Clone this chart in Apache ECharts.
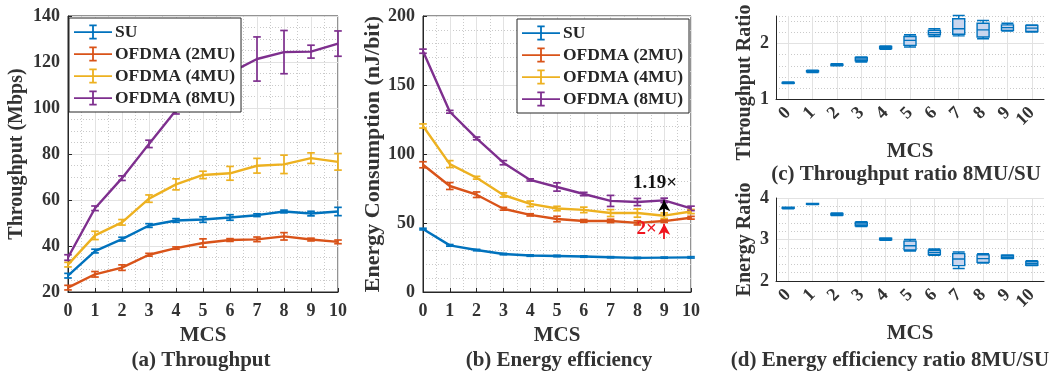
<!DOCTYPE html>
<html lang="en">
<head>
    <meta charset="UTF-8">
    <title>MCS throughput / energy</title>
    <script src="https://cdn.jsdelivr.net/npm/echarts@6/dist/echarts.min.js"></script>
</head>
<body style="margin:0;background:#fff;">
<div id="main" style="width:1064px;height:374px;"></div>
<script>
    // ---- data ----
    var mcs = [0, 1, 2, 3, 4, 5, 6, 7, 8, 9, 10];
    var mcsLabels = ['0', '1', '2', '3', '4', '5', '6', '7', '8', '9', '10'];
    var seriesNames = ['SU', 'OFDMA (2MU)', 'OFDMA (4MU)', 'OFDMA (8MU)'];

    // (a) throughput, Mbps
    var suThr = [27.1, 37.8, 43, 48.9, 51.1, 51.5, 52.4, 53.4, 55, 54.1, 55];
    var suThrErr = [1, 0.8, 0.8, 0.8, 0.8, 1.2, 1.2, 0.6, 0.6, 1, 1.8];
    var mu2Thr = [21.9, 27.7, 30.6, 36.2, 39.1, 41.3, 42.6, 42.9, 44.2, 42.8, 41.8];
    var mu2ThrErr = [1, 1.2, 1.2, 0.6, 0.5, 1.8, 0.6, 1, 1.6, 0.6, 0.8];
    var mu4Thr = [31.9, 44.6, 50.3, 60.6, 66.8, 70.9, 71.6, 74.9, 75.5, 78.2, 76.6];
    var mu4ThrErr = [1, 1.8, 1.2, 1.6, 2.4, 1.6, 3, 3.2, 4, 2.3, 3.6];
    var mu8Thr = [35, 56.4, 69.5, 84.4, 99, 108, 115.3, 121.3, 124.3, 124.5, 128];
    var mu8ThrErr = [1.2, 1, 1, 1.6, 1.6, 2, 2, 9.6, 9.4, 2.8, 5.5];

    // (b) energy consumption, nJ/bit
    var suEn = [45.6, 33.8, 30.4, 27.5, 26.4, 26.1, 25.7, 25.2, 24.7, 24.9, 25.1];
    var suEnErr = [0.6, 0.6, 0.5, 0.5, 0.5, 0.5, 0.5, 0.4, 0.4, 0.4, 0.5];
    var mu2En = [92.2, 76.8, 70.5, 60.3, 55.9, 52.9, 51.5, 51.5, 50.1, 51.4, 53.8];
    var mu2EnErr = [2.2, 2.5, 2, 1, 0.8, 2, 1, 1.2, 1.5, 1, 1];
    var mu4En = [120.3, 92.7, 82.8, 70.3, 63.9, 60.5, 59.5, 57.2, 57.2, 55.3, 58.3];
    var mu4EnErr = [1.5, 2.5, 1, 1.5, 2, 1.6, 2, 2.5, 3, 2, 1.5];
    var mu8En = [174.5, 130.6, 111.3, 93.7, 81.2, 76.1, 71, 66, 65.2, 66.4, 60.6];
    var mu8EnErr = [1.5, 1, 1, 1.5, 0.8, 3, 1.2, 4, 2.6, 1.6, 1.6];

    // annotation arrows at MCS 9
    var arrowBlack = [[9, 55.3], [9, 66.4]];
    var arrowRed = [[9, 38.4], [9, 49.5]];
    var textBlack = [8.66, 79];
    var textRed = [8.35, 45.8];

    // (c) throughput ratio 8MU/SU boxes: [min, q1, median, q3, max]
    var thrRatio = [
        [1.28, 1.285, 1.29, 1.30, 1.31],
        [1.48, 1.49, 1.50, 1.51, 1.52],
        [1.60, 1.61, 1.615, 1.63, 1.64],
        [1.67, 1.69, 1.72, 1.75, 1.76],
        [1.90, 1.91, 1.93, 1.95, 1.96],
        [1.94, 1.97, 2.06, 2.13, 2.16],
        [2.13, 2.16, 2.20, 2.24, 2.27],
        [2.14, 2.17, 2.27, 2.45, 2.51],
        [2.09, 2.12, 2.25, 2.37, 2.42],
        [2.23, 2.24, 2.29, 2.34, 2.37],
        [2.21, 2.22, 2.28, 2.33, 2.34]
    ];
    // (d) energy efficiency ratio 8MU/SU
    var enRatio = [
        [3.74, 3.75, 3.76, 3.77, 3.78],
        [3.84, 3.85, 3.86, 3.87, 3.87],
        [3.58, 3.59, 3.61, 3.63, 3.64],
        [3.31, 3.33, 3.37, 3.41, 3.43],
        [2.98, 2.99, 3.01, 3.03, 3.04],
        [2.72, 2.75, 2.85, 2.96, 3.00],
        [2.62, 2.64, 2.69, 2.74, 2.77],
        [2.30, 2.37, 2.53, 2.66, 2.70],
        [2.43, 2.45, 2.54, 2.63, 2.66],
        [2.54, 2.55, 2.58, 2.62, 2.63],
        [2.37, 2.38, 2.42, 2.47, 2.49]
    ];

    var colors = ['#0072BD', '#D95319', '#EDB120', '#7E2F8E'];
    var FONT = "'Liberation Serif', 'Times New Roman', serif";
    var TXT = '#333333';

    function pairs(ys) {
        return mcs.map(function (x, i) { return [x, ys[i]]; });
    }
    function bars(ys, err) {
        return mcs.map(function (x, i) { return [x, ys[i] - err[i], ys[i] + err[i]]; });
    }
    function errRender(params, api) {
        var x = api.value(0);
        var p1 = api.coord([x, api.value(1)]);
        var p2 = api.coord([x, api.value(2)]);
        var w = 3.8;
        var st = {stroke: api.visual('color'), lineWidth: 1.7, fill: null};
        return {
            type: 'group',
            children: [
                {type: 'line', shape: {x1: p1[0], y1: p1[1], x2: p2[0], y2: p2[1]}, style: st},
                {type: 'line', shape: {x1: p1[0] - w, y1: p1[1], x2: p1[0] + w, y2: p1[1]}, style: st},
                {type: 'line', shape: {x1: p2[0] - w, y1: p2[1], x2: p2[0] + w, y2: p2[1]}, style: st}
            ]
        };
    }

    var axisLine = {lineStyle: {color: '#262626', width: 1}};
    var tick = {inside: true, length: 4, lineStyle: {color: '#262626'}};
    var major = {show: true, lineStyle: {color: '#e2e2e2', width: 1}};
    var minor = {show: true, lineStyle: {color: '#cacaca', width: 1, type: [1, 2]}};
    var tickFont = {fontFamily: FONT, fontWeight: 'bold', fontSize: 18, color: TXT};
    var nameFont = {fontFamily: FONT, fontWeight: 'bold', fontSize: 21, color: TXT};

    function lineXAxis(gi) {
        return {
            gridIndex: gi, type: 'value', min: 0, max: 10, interval: 1,
            name: 'MCS', nameLocation: 'middle', nameGap: 31, nameTextStyle: nameFont,
            axisLine: axisLine, axisTick: tick,
            axisLabel: Object.assign({margin: 10}, tickFont),
            splitLine: major, minorTick: {show: false, splitNumber: 2}, minorSplitLine: minor
        };
    }
    function boxXAxis(gi) {
        return {
            gridIndex: gi, type: 'category', data: mcsLabels,
            name: 'MCS', nameLocation: 'middle', nameGap: 42, nameTextStyle: nameFont,
            axisLine: axisLine, axisTick: {inside: true, length: 3, alignWithLabel: true, lineStyle: {color: '#262626'}},
            axisLabel: Object.assign({rotate: 45, margin: 11, interval: 0}, tickFont),
            splitLine: {show: true, alignWithLabel: true, lineStyle: {color: '#e2e2e2'}}
        };
    }

    var series = [];
    var thrSets = [[suThr, suThrErr], [mu2Thr, mu2ThrErr], [mu4Thr, mu4ThrErr], [mu8Thr, mu8ThrErr]];
    var enSets = [[suEn, suEnErr], [mu2En, mu2EnErr], [mu4En, mu4EnErr], [mu8En, mu8EnErr]];
    [thrSets, enSets].forEach(function (sets, gi) {
        sets.forEach(function (s, k) {
            var line = {
                name: seriesNames[k], type: 'line', xAxisIndex: gi, yAxisIndex: gi,
                data: pairs(s[0]), symbol: 'none', z: 3,
                itemStyle: {color: colors[k]}, lineStyle: {width: 2.4, color: colors[k]}
            };
            if (gi === 1 && k === 3) {
                line.markLine = {
                    silent: true, symbol: ['none', 'arrow'], symbolSize: [9, 11],
                    lineStyle: {color: '#000', width: 1.8, type: 'solid'}, label: {show: false},
                    data: [[{coord: arrowBlack[0]}, {coord: arrowBlack[1]}]]
                };
                line.markPoint = {
                    symbol: 'circle', symbolSize: 0,
                    label: {show: true, position: 'inside', formatter: '1.19×', fontFamily: FONT, fontWeight: 'bold', fontSize: 19, color: '#111'},
                    data: [{coord: textBlack}]
                };
            }
            if (gi === 1 && k === 1) {
                line.markLine = {
                    silent: true, symbol: ['none', 'arrow'], symbolSize: [9, 11],
                    lineStyle: {color: '#f0141e', width: 1.8, type: 'solid'}, label: {show: false},
                    data: [[{coord: arrowRed[0]}, {coord: arrowRed[1]}]]
                };
                line.markPoint = {
                    symbol: 'circle', symbolSize: 0,
                    label: {show: true, position: 'inside', formatter: '2×', fontFamily: FONT, fontWeight: 'bold', fontSize: 19, color: '#f0141e'},
                    data: [{coord: textRed}]
                };
            }
            series.push(line);
            series.push({
                name: seriesNames[k], type: 'custom', xAxisIndex: gi, yAxisIndex: gi,
                renderItem: errRender, data: bars(s[0], s[1]), z: 3,
                encode: {x: 0, y: [1, 2]}, itemStyle: {color: colors[k]}
            });
        });
    });

    var boxStyle = {color: '#cad6ee', borderColor: '#0072BD', borderWidth: 1.4};
    series.push({type: 'boxplot', xAxisIndex: 2, yAxisIndex: 2, data: thrRatio, boxWidth: [12, 12], itemStyle: boxStyle});
    series.push({type: 'boxplot', xAxisIndex: 3, yAxisIndex: 4, data: enRatio, boxWidth: [12, 12], itemStyle: boxStyle});

    var legendIcon = 'path://M0,6.7h38v1.8h-38z M18.1,0h1.8v15h-1.8z M15.3,0h7.4v1.8h-7.4z M15.3,13.2h7.4v1.8h-7.4z';
    function legendAt(left, top) {
        return {
            orient: 'vertical', left: left, top: top, itemWidth: 38, itemHeight: 15, itemGap: 4,
            padding: [5, 6, 5, 5], backgroundColor: '#fff', borderColor: '#262626', borderWidth: 1,
            selectedMode: false, z: 10,
            textStyle: {fontFamily: FONT, fontWeight: 'bold', fontSize: 17.5, color: '#262626', padding: [0, 0, 0, -2]},
            data: seriesNames.map(function (n) { return {name: n, icon: legendIcon}; })
        };
    }

    var myChart = echarts.init(document.getElementById('main'));
    var option = {
        animation: false,
        color: colors,
        title: [
            {text: '(a) Throughput', left: 201, top: 350, textAlign: 'center'},
            {text: '(b) Energy efficiency', left: 559, top: 350, textAlign: 'center'},
            {text: '(c) Throughput ratio 8MU/SU', left: 906, top: 164, textAlign: 'center'},
            {text: '(d) Energy efficiency ratio 8MU/SU', left: 890, top: 350, textAlign: 'center'}
        ].map(function (t) {
            t.padding = 0;
            t.textStyle = {fontFamily: FONT, fontWeight: 'bold', fontSize: 21, color: TXT};
            return t;
        }),
        legend: [legendAt(69, 18), legendAt(517, 19)],
        grid: [
            {left: 68, top: 16, width: 270, height: 276, show: true, borderColor: '#262626', borderWidth: 1, backgroundColor: 'transparent'},
            {left: 423, top: 16, width: 268, height: 276, show: true, borderColor: '#262626', borderWidth: 1, backgroundColor: 'transparent'},
            {left: 776, top: 16, width: 268, height: 83},
            {left: 776, top: 198, width: 268, height: 83}
        ],
        xAxis: [lineXAxis(0), lineXAxis(1), boxXAxis(2), boxXAxis(3)],
        yAxis: [
            {
                gridIndex: 0, type: 'value', min: 20, max: 140, interval: 20,
                name: 'Throughput (Mbps)', nameLocation: 'middle', nameGap: 41,
                nameTextStyle: Object.assign({}, nameFont, {fontSize: 20}),
                axisLine: {show: true, lineStyle: axisLine.lineStyle}, axisTick: tick, axisLabel: tickFont,
                splitLine: major, minorTick: {show: false, splitNumber: 4}, minorSplitLine: minor
            },
            {
                gridIndex: 1, type: 'value', min: 0, max: 200, interval: 50,
                name: 'Energy Consumption (nJ/bit)', nameLocation: 'middle', nameGap: 39,
                nameTextStyle: Object.assign({}, nameFont, {fontSize: 22}),
                axisLine: {show: true, lineStyle: axisLine.lineStyle}, axisTick: tick, axisLabel: tickFont,
                splitLine: major, minorTick: {show: false, splitNumber: 5}, minorSplitLine: minor
            },
            {
                // (c) dotted 0.2 grid + labels at integers
                gridIndex: 2, type: 'value', min: 1, max: 2.5, interval: 0.2,
                name: 'Throughput Ratio', nameLocation: 'middle', nameGap: 21,
                nameTextStyle: Object.assign({}, nameFont, {fontSize: 20, padding: [0, 50, 0, 0]}),
                axisLine: {show: true, lineStyle: axisLine.lineStyle}, axisTick: {show: false},
                axisLabel: Object.assign({
                    margin: 7,
                    formatter: function (v) { return (Math.abs(v - Math.round(v)) < 1e-6 && v < 2.4) ? String(Math.round(v)) : ''; }
                }, tickFont),
                splitLine: minor
            },
            {
                gridIndex: 2, type: 'value', min: 1, max: 2.5, interval: 1,
                axisLine: {show: false}, axisTick: Object.assign({}, tick, {length: 3}), axisLabel: {show: false},
                splitLine: {show: true, showMinLine: false, showMaxLine: false, lineStyle: {color: '#e2e2e2'}}
            },
            {
                gridIndex: 3, type: 'value', min: 2, max: 4, interval: 1,
                name: 'Energy Ratio', nameLocation: 'middle', nameGap: 21,
                nameTextStyle: Object.assign({}, nameFont, {fontSize: 20}),
                axisLine: {show: true, lineStyle: axisLine.lineStyle}, axisTick: Object.assign({}, tick, {length: 3}),
                axisLabel: Object.assign({margin: 7}, tickFont),
                splitLine: major, minorTick: {show: false, splitNumber: 5}, minorSplitLine: minor
            }
        ],
        series: series
    };
    myChart.setOption(option);
</script>
</body>
</html>
